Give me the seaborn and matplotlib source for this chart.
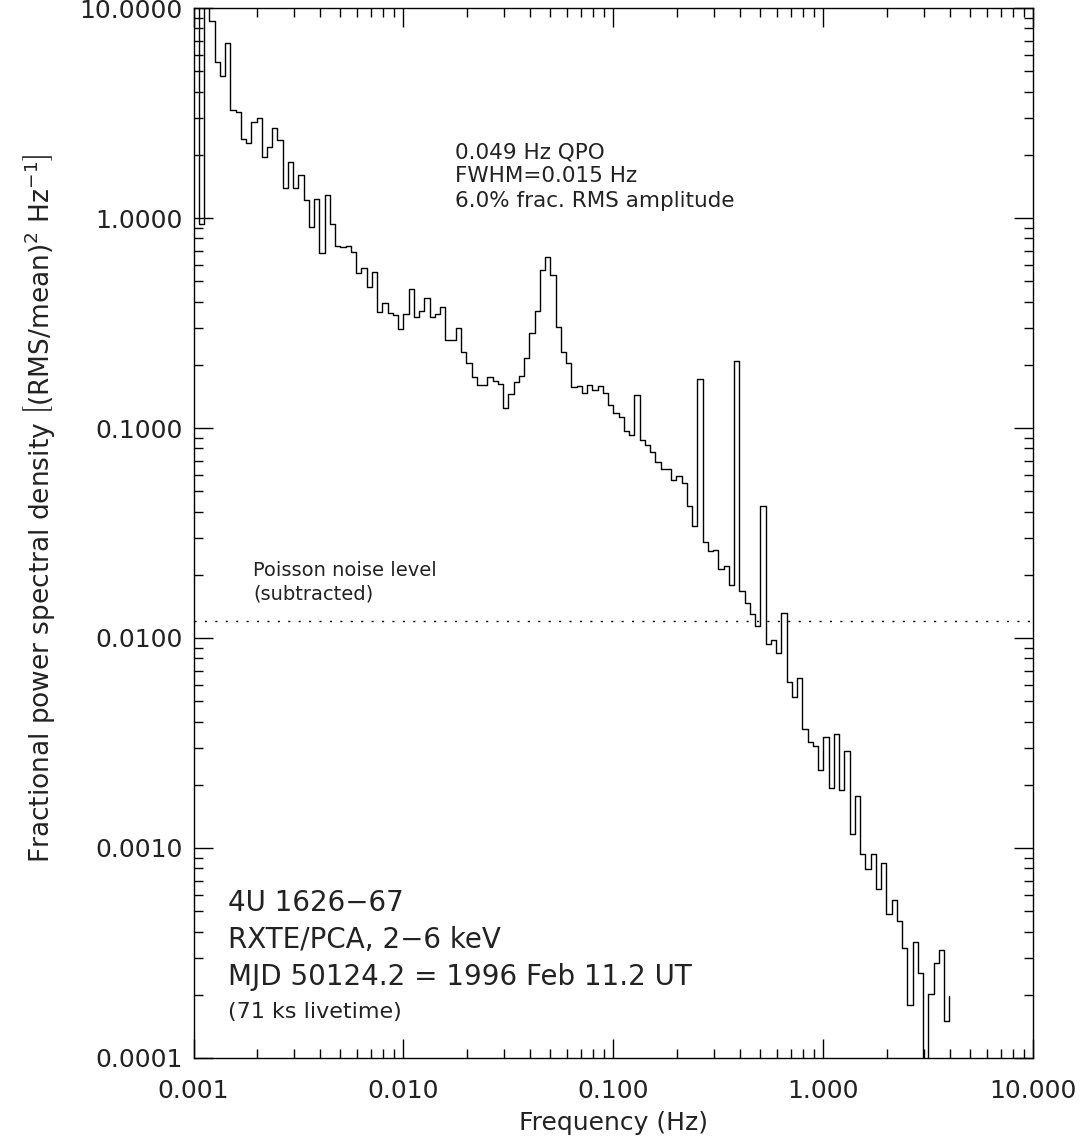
import numpy as np
import pandas as pd
import matplotlib
matplotlib.use("Agg")
import matplotlib.pyplot as plt
import matplotlib.ticker as mticker
import seaborn as sns

# log-rebinned power spectrum: 40 bins per decade starting at 1 mHz
bin_start_hz = 1e-3
bins_per_decade = 40

# fractional PSD per bin (values > 10 or < 1e-4 run off the plot)
power = [
    20.0, 0.94, 15.0, 8.66, 5.55, 4.74, 6.84, 3.27, 3.19, 2.37,
    2.28, 2.87, 3.00, 1.96, 2.18, 2.69, 2.35, 1.39, 1.85, 1.39,
    1.61, 1.22, 0.91, 1.23, 0.68, 1.29, 0.94, 0.736, 0.73, 0.736,
    0.69, 0.549, 0.576, 0.468, 0.555, 0.356, 0.392, 0.352, 0.345, 0.296,
    0.349, 0.457, 0.337, 0.361, 0.414, 0.337, 0.349, 0.378, 0.263, 0.263,
    0.300, 0.231, 0.205, 0.174, 0.160, 0.160, 0.174, 0.168, 0.162, 0.125,
    0.145, 0.165, 0.177, 0.215, 0.284, 0.362, 0.565, 0.650, 0.535, 0.302,
    0.231, 0.205, 0.157, 0.159, 0.147, 0.161, 0.152, 0.159, 0.146, 0.129,
    0.118, 0.113, 0.097, 0.093, 0.144, 0.0876, 0.083, 0.077, 0.0687, 0.064,
    0.0636, 0.0565, 0.059, 0.0546, 0.0425, 0.0341, 0.172, 0.0287, 0.0260, 0.0263,
    0.0213, 0.0221, 0.0179, 0.209, 0.0167, 0.0146, 0.0130, 0.0114, 0.0425, 0.0094,
    0.0098, 0.00845, 0.0131, 0.00615, 0.00522, 0.00643, 0.00369, 0.0032, 0.00306, 0.00235,
    0.00337, 0.00194, 0.00348, 0.00189, 0.0029, 0.00117, 0.00176, 0.00094, 0.00079, 0.00094,
    0.00064, 0.000845, 0.000485, 0.000565, 0.00045, 0.000333, 0.000179, 0.000355, 0.000253, 0.00005,
    0.000201, 0.000284, 0.000327, 0.00015,
]
last_point = 0.000197  # final vertical of the histogram

poisson_level = 0.012

x_ticks = [0.001, 0.01, 0.1, 1.0, 10.0]
y_ticks = [0.0001, 0.001, 0.01, 0.1, 1.0, 10.0]

qpo_lines = ["0.049 Hz QPO", "FWHM=0.015 Hz", "6.0% frac. RMS amplitude"]
source_lines = ["4U 1626\u221267", "RXTE/PCA, 2\u22126 keV", "MJD 50124.2 = 1996 Feb 11.2 UT"]
livetime_text = "(71 ks livetime)"

# bin edges, steps-post needs one more point than bins
n_edges = len(power) + 1
edges = bin_start_hz * 10 ** (np.arange(n_edges) / bins_per_decade)
df = pd.DataFrame({"freq": edges, "psd": power + [last_point]})

sns.set_style("ticks")
plt.rcParams["font.family"] = ["DejaVu Sans"]
plt.rcParams["mathtext.fontset"] = "dejavusans"

fig = plt.figure(figsize=(10.89, 11.45), dpi=100)
ax = fig.add_axes([0.1777, 0.0760, 0.7712, 0.9170])
ax.set_xscale("log")
ax.set_yscale("log")

sns.lineplot(data=df, x="freq", y="psd", ax=ax, drawstyle="steps-post",
             color="black", linewidth=1.0, estimator=None, sort=False)

ax.axhline(poisson_level, color="black", linewidth=1.0, linestyle=(0, (1.5, 6.0)))

ax.set_xlim(x_ticks[0], x_ticks[-1])
ax.set_ylim(y_ticks[0], y_ticks[-1])

ax.xaxis.set_major_locator(mticker.FixedLocator(x_ticks))
ax.yaxis.set_major_locator(mticker.FixedLocator(y_ticks))
ax.xaxis.set_minor_locator(mticker.LogLocator(base=10, subs=np.arange(2, 10), numticks=20))
ax.yaxis.set_minor_locator(mticker.LogLocator(base=10, subs=np.arange(2, 10), numticks=20))
ax.xaxis.set_major_formatter(mticker.FuncFormatter(lambda v, p: f"{v:.3f}"))
ax.yaxis.set_major_formatter(mticker.FuncFormatter(lambda v, p: f"{v:.4f}"))
ax.xaxis.set_minor_formatter(mticker.NullFormatter())
ax.yaxis.set_minor_formatter(mticker.NullFormatter())

ax.tick_params(which="both", direction="in", top=True, right=True, width=1.0, color="black")
ax.tick_params(which="major", length=14)
ax.tick_params(which="minor", length=6.5)
ax.tick_params(axis="x", which="major", pad=15, labelsize=18, labelcolor="#222222")
ax.tick_params(axis="y", which="major", pad=8, labelsize=18, labelcolor="#222222")
for s in ax.spines.values():
    s.set_linewidth(1.0)
    s.set_color("black")

ax.set_xlabel("Frequency (Hz)", fontsize=18, color="#222222", labelpad=6)
ax.set_ylabel(r"Fractional power spectral density $\left[(\mathrm{RMS/mean})^{2}\ \mathrm{Hz}^{-1}\right]$",
              fontsize=19, color="#222222")
ax.yaxis.set_label_coords(-0.163, 0.524)

# annotations (axes fractions)
for txt, yf in zip(qpo_lines, [0.862, 0.840, 0.816]):
    ax.text(0.311, yf, txt, transform=ax.transAxes, fontsize=15.5, va="center", ha="left", color="#222222")

ax.text(0.071, 0.464, "Poisson noise level", transform=ax.transAxes, fontsize=14, va="center", color="#222222")
ax.text(0.071, 0.442, "(subtracted)", transform=ax.transAxes, fontsize=14, va="center", color="#222222")

for txt, yf in zip(source_lines, [0.1476, 0.1124, 0.0771]):
    ax.text(0.041, yf, txt, transform=ax.transAxes, fontsize=20, va="center", ha="left", color="#222222")
ax.text(0.041, 0.0438, livetime_text, transform=ax.transAxes, fontsize=16, va="center", ha="left", color="#222222")

fig.savefig("out.png", dpi=100)
plt.close(fig)
